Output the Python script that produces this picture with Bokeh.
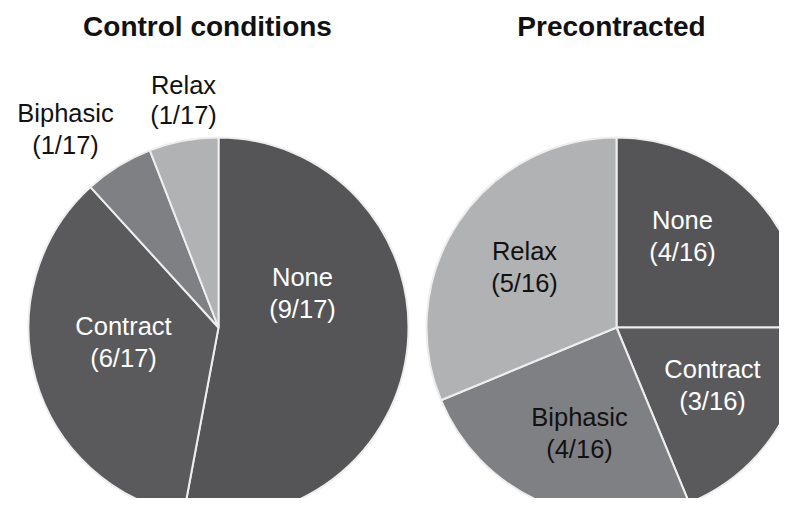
import math
from bokeh.plotting import figure
from bokeh.models import Range1d, ColumnDataSource
from bokeh.core.properties import value
from bokeh.embed import file_html
from bokeh.resources import INLINE

# ---- data ----
titles = ["Control conditions", "Precontracted"]
left_categories = ["None", "Contract", "Biphasic", "Relax"]
left_counts = [9, 6, 1, 1]
left_total = 17
right_categories = ["None", "Contract", "Biphasic", "Relax"]
right_counts = [4, 3, 4, 5]
right_total = 16

# ---- styles / layout ----
colors = {"None": "#555558", "Contract": "#5a5a5d", "Biphasic": "#7f8083", "Relax": "#b1b2b4"}
text_colors = {"None": "#ffffff", "Contract": "#ffffff", "Biphasic": "#111111", "Relax": "#111111"}
FONT = "Liberation Sans"
W, H = 779, 498
R = 190
centers = [(218, 327), (616, 327)]          # reference pixel coords
title_pos = [(207, 26), (611, 26)]
# label line centres (name line, count line), reference pixel coords
label_pos = [
    {"None": (302, 276, 308), "Contract": (123, 325, 357), "Biphasic": (65, 112, 144), "Relax": (183, 84, 114)},
    {"None": (682, 219, 251), "Contract": (712, 368, 400), "Biphasic": (579, 416, 448), "Relax": (524, 250, 282)},
]

p = figure(width=W, height=H, output_backend="svg", toolbar_location=None,
           x_range=Range1d(0, W), y_range=Range1d(-H, 0),
           x_axis_location=None, y_axis_location=None, min_border=0)
p.grid.visible = False
p.outline_line_color = None
p.background_fill_color = "white"
p.border_fill_color = "white"

pies = [(left_categories, left_counts, left_total), (right_categories, right_counts, right_total)]
for k, (cats, counts, total) in enumerate(pies):
    cx, cy = centers[k]
    starts, ends = [], []
    cum = 0
    for c in counts:
        starts.append(math.pi / 2 - 2 * math.pi * (cum + c) / total)
        ends.append(math.pi / 2 - 2 * math.pi * cum / total)
        cum += c
    src = ColumnDataSource(dict(x=[cx] * len(cats), y=[-cy] * len(cats), start=starts, end=ends,
                                color=[colors[c] for c in cats]))
    p.wedge(x="x", y="y", radius=R, start_angle="start", end_angle="end", direction="anticlock",
            fill_color="color", line_color="#eeeeee", line_width=2, source=src)

    names, counts_txt, xs, y1, y2, tcol = [], [], [], [], [], []
    for cat, c in zip(cats, counts):
        lx, ly1, ly2 = label_pos[k][cat]
        names.append(cat)
        counts_txt.append(f"({c}/{total})")
        xs.append(lx)
        y1.append(-ly1)
        y2.append(-ly2)
        tcol.append(text_colors[cat])
    lsrc = ColumnDataSource(dict(x=xs, y1=y1, y2=y2, n=names, c=counts_txt, col=tcol))
    for ycol, tname in (("y1", "n"), ("y2", "c")):
        p.text(x="x", y=ycol, text=tname, source=lsrc, text_color="col",
               text_align="center", text_baseline="middle",
               text_font=value(FONT), text_font_size="25.5px")

    tx, ty = title_pos[k]
    p.text(x=[tx], y=[-ty], text=[titles[k]], text_align="center", text_baseline="middle",
           text_font=value(FONT), text_font_size="28px", text_font_style="bold", text_color="#111111")

open("out.html", "w").write(file_html(p, INLINE))
